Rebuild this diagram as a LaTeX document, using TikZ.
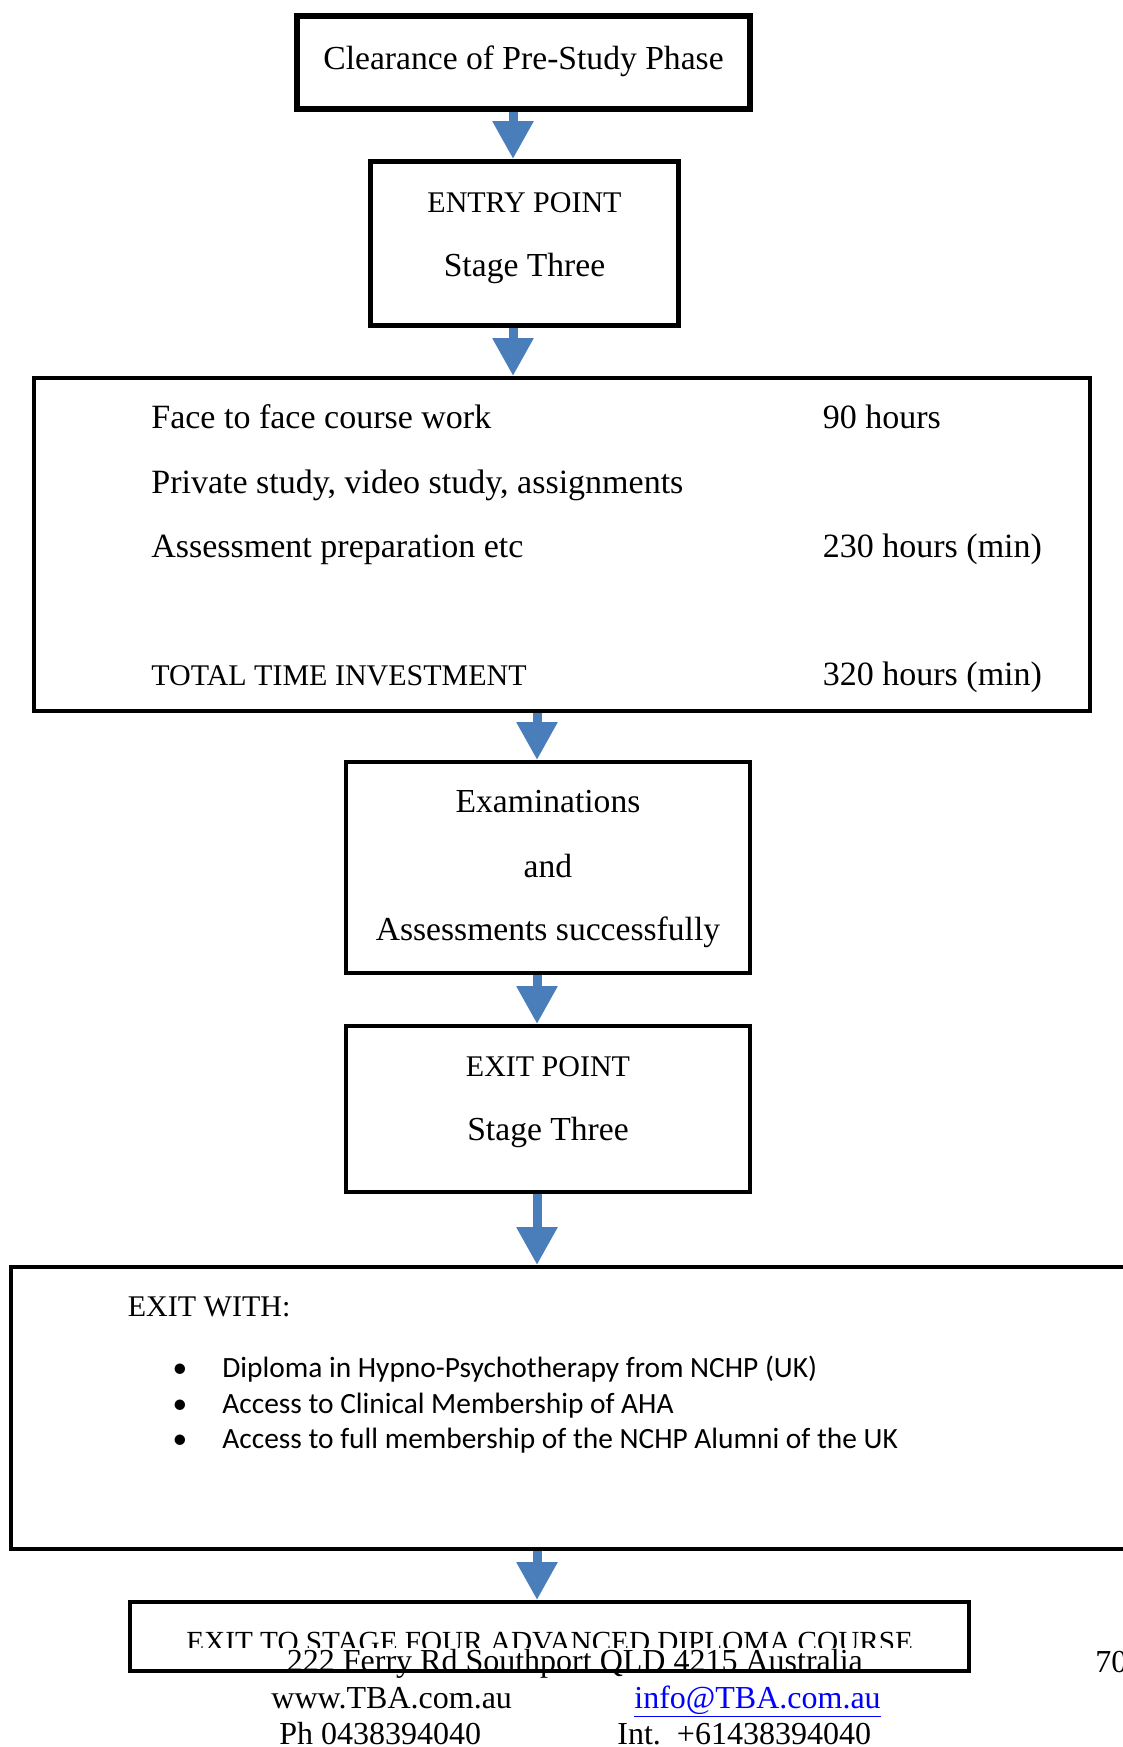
\documentclass[tikz,border=0pt]{standalone}
\usepackage{fontspec}
\setmainfont{Liberation Serif}
\newfontfamily\listfont{Carlito}
\usetikzlibrary{arrows.meta,fit,positioning}
\definecolor{arrowblue}{RGB}{74,126,187}
\definecolor{linkblue}{RGB}{0,0,255}

\begin{document}
\begin{tikzpicture}[x=0.5pt,y=-0.5pt,
  stage box/.style={draw,line width=2pt,inner sep=0pt,rectangle},
  box text/.style={inner sep=0pt,anchor=base,font=\fontsize{16.8pt}{20pt}\selectfont},
  caps text/.style={box text,font=\fontsize{15pt}{18pt}\selectfont},
  row text/.style={box text,anchor=base west,font=\fontsize{17pt}{20pt}\selectfont},
  list text/.style={inner sep=0pt,anchor=base west,font=\listfont\fontsize{14.7pt}{18pt}\selectfont},
  foot text/.style={inner sep=0pt,anchor=base west,font=\fontsize{16pt}{19pt}\selectfont},
  flow arrow/.style={arrowblue,line width=4.5pt,-{Triangle[width=19.5pt,length=19pt]}}]

  \useasboundingbox (0,0) rectangle (1123,1747);

  % boxes
  \node[stage box,line width=3pt,fit={(297,16) (750,109)}] (clear) {};
  \node[stage box,line width=2.5pt,fit={(370.5,161.5) (678.5,325.5)}] (entry) {};
  \node[stage box,fit={(34,378) (1090,711)}] (hours) {};
  \node[stage box,fit={(346,762) (750,973)}] (exams) {};
  \node[stage box,fit={(346,1026) (750,1192)}] (exit) {};
  \node[stage box,fit={(10.5,1267) (1150,1549)}] (exitwith) {};
  \node[stage box,fit={(130,1602) (969,1671)}] (stagefour) {};

  % texts
  \node[box text] (clearT) at (523.5,69) {Clearance of Pre-Study Phase};
  \node[caps text] (entryA) at (524.5,212) {ENTRY POINT};
  \node[box text] (entryB) at (524.5,276) {Stage Three};

  \node[row text] (face) at (151,428) {Face to face course work};
  \node[row text] (private) at (151,493) {Private study, video study, assignments};
  \node[row text] (prep) at (151,557) {Assessment preparation etc};
  \node[row text,font=\fontsize{15pt}{18pt}\selectfont] (total) at (151,685) {TOTAL TIME INVESTMENT};
  \node[row text] (faceH) at (822.5,428) {90 hours};
  \node[row text] (prepH) at (822.5,557) {230 hours (min)};
  \node[row text] (totalH) at (822.5,685) {320 hours (min)};

  \node[box text] (examA) at (548,812) {Examinations};
  \node[box text] (examB) at (548,877) {and};
  \node[box text] (examC) at (548,940) {Assessments successfully};

  \node[caps text] (exitA) at (548,1076) {EXIT POINT};
  \node[box text] (exitB) at (548,1140) {Stage Three};

  \node[row text,font=\fontsize{15pt}{18pt}\selectfont] (with) at (127.5,1316) {EXIT WITH:};
  \foreach \y/\txt [count=\i] in {1377/Diploma in Hypno-Psychotherapy from NCHP (UK),
      1413/Access to Clinical Membership of AHA,
      1448/Access to full membership of the NCHP Alumni of the UK}{
    \node[list text,anchor=base] (dot\i) at (180,\y) {•};
    \node[list text] (item\i) at (222,\y) {\txt};
  }

  \begin{scope}
    \clip (0,1590) rectangle (1123,1647);
    \node[row text,font=\fontsize{14.6pt}{17pt}\selectfont] (four) at (186,1651) {EXIT TO STAGE FOUR ADVANCED DIPLOMA COURSE};
  \end{scope}

  % footer
  \node[foot text] (street) at (286.5,1671) {222 Ferry Rd Southport QLD 4215 Australia};
  \node[foot text] (page) at (1095,1672) {70};
  \node[foot text] (web) at (271,1708) {www.TBA.com.au};
  \node[foot text,text=linkblue] (mail) at (634,1708) {\underline{info@TBA.com.au}};
  \node[foot text] (phone) at (279,1744) {Ph 0438394040};
  \node[foot text] (intl) at (617,1744) {Int.\ \ +61438394040};

  % arrows
  \coordinate (upper) at (513,0);
  \coordinate (lower) at (537,0);
  \draw[flow arrow] (clear.south -| upper) -- (entry.north -| upper);
  \draw[flow arrow] (entry.south -| upper) -- (hours.north -| upper);
  \draw[flow arrow] (hours.south -| lower) -- (exams.north -| lower);
  \draw[flow arrow] (exams.south -| lower) -- (exit.north -| lower);
  \draw[flow arrow] (exit.south -| lower) -- (exitwith.north -| lower);
  \draw[flow arrow] (exitwith.south -| lower) -- (stagefour.north -| lower);
\end{tikzpicture}
\end{document}
